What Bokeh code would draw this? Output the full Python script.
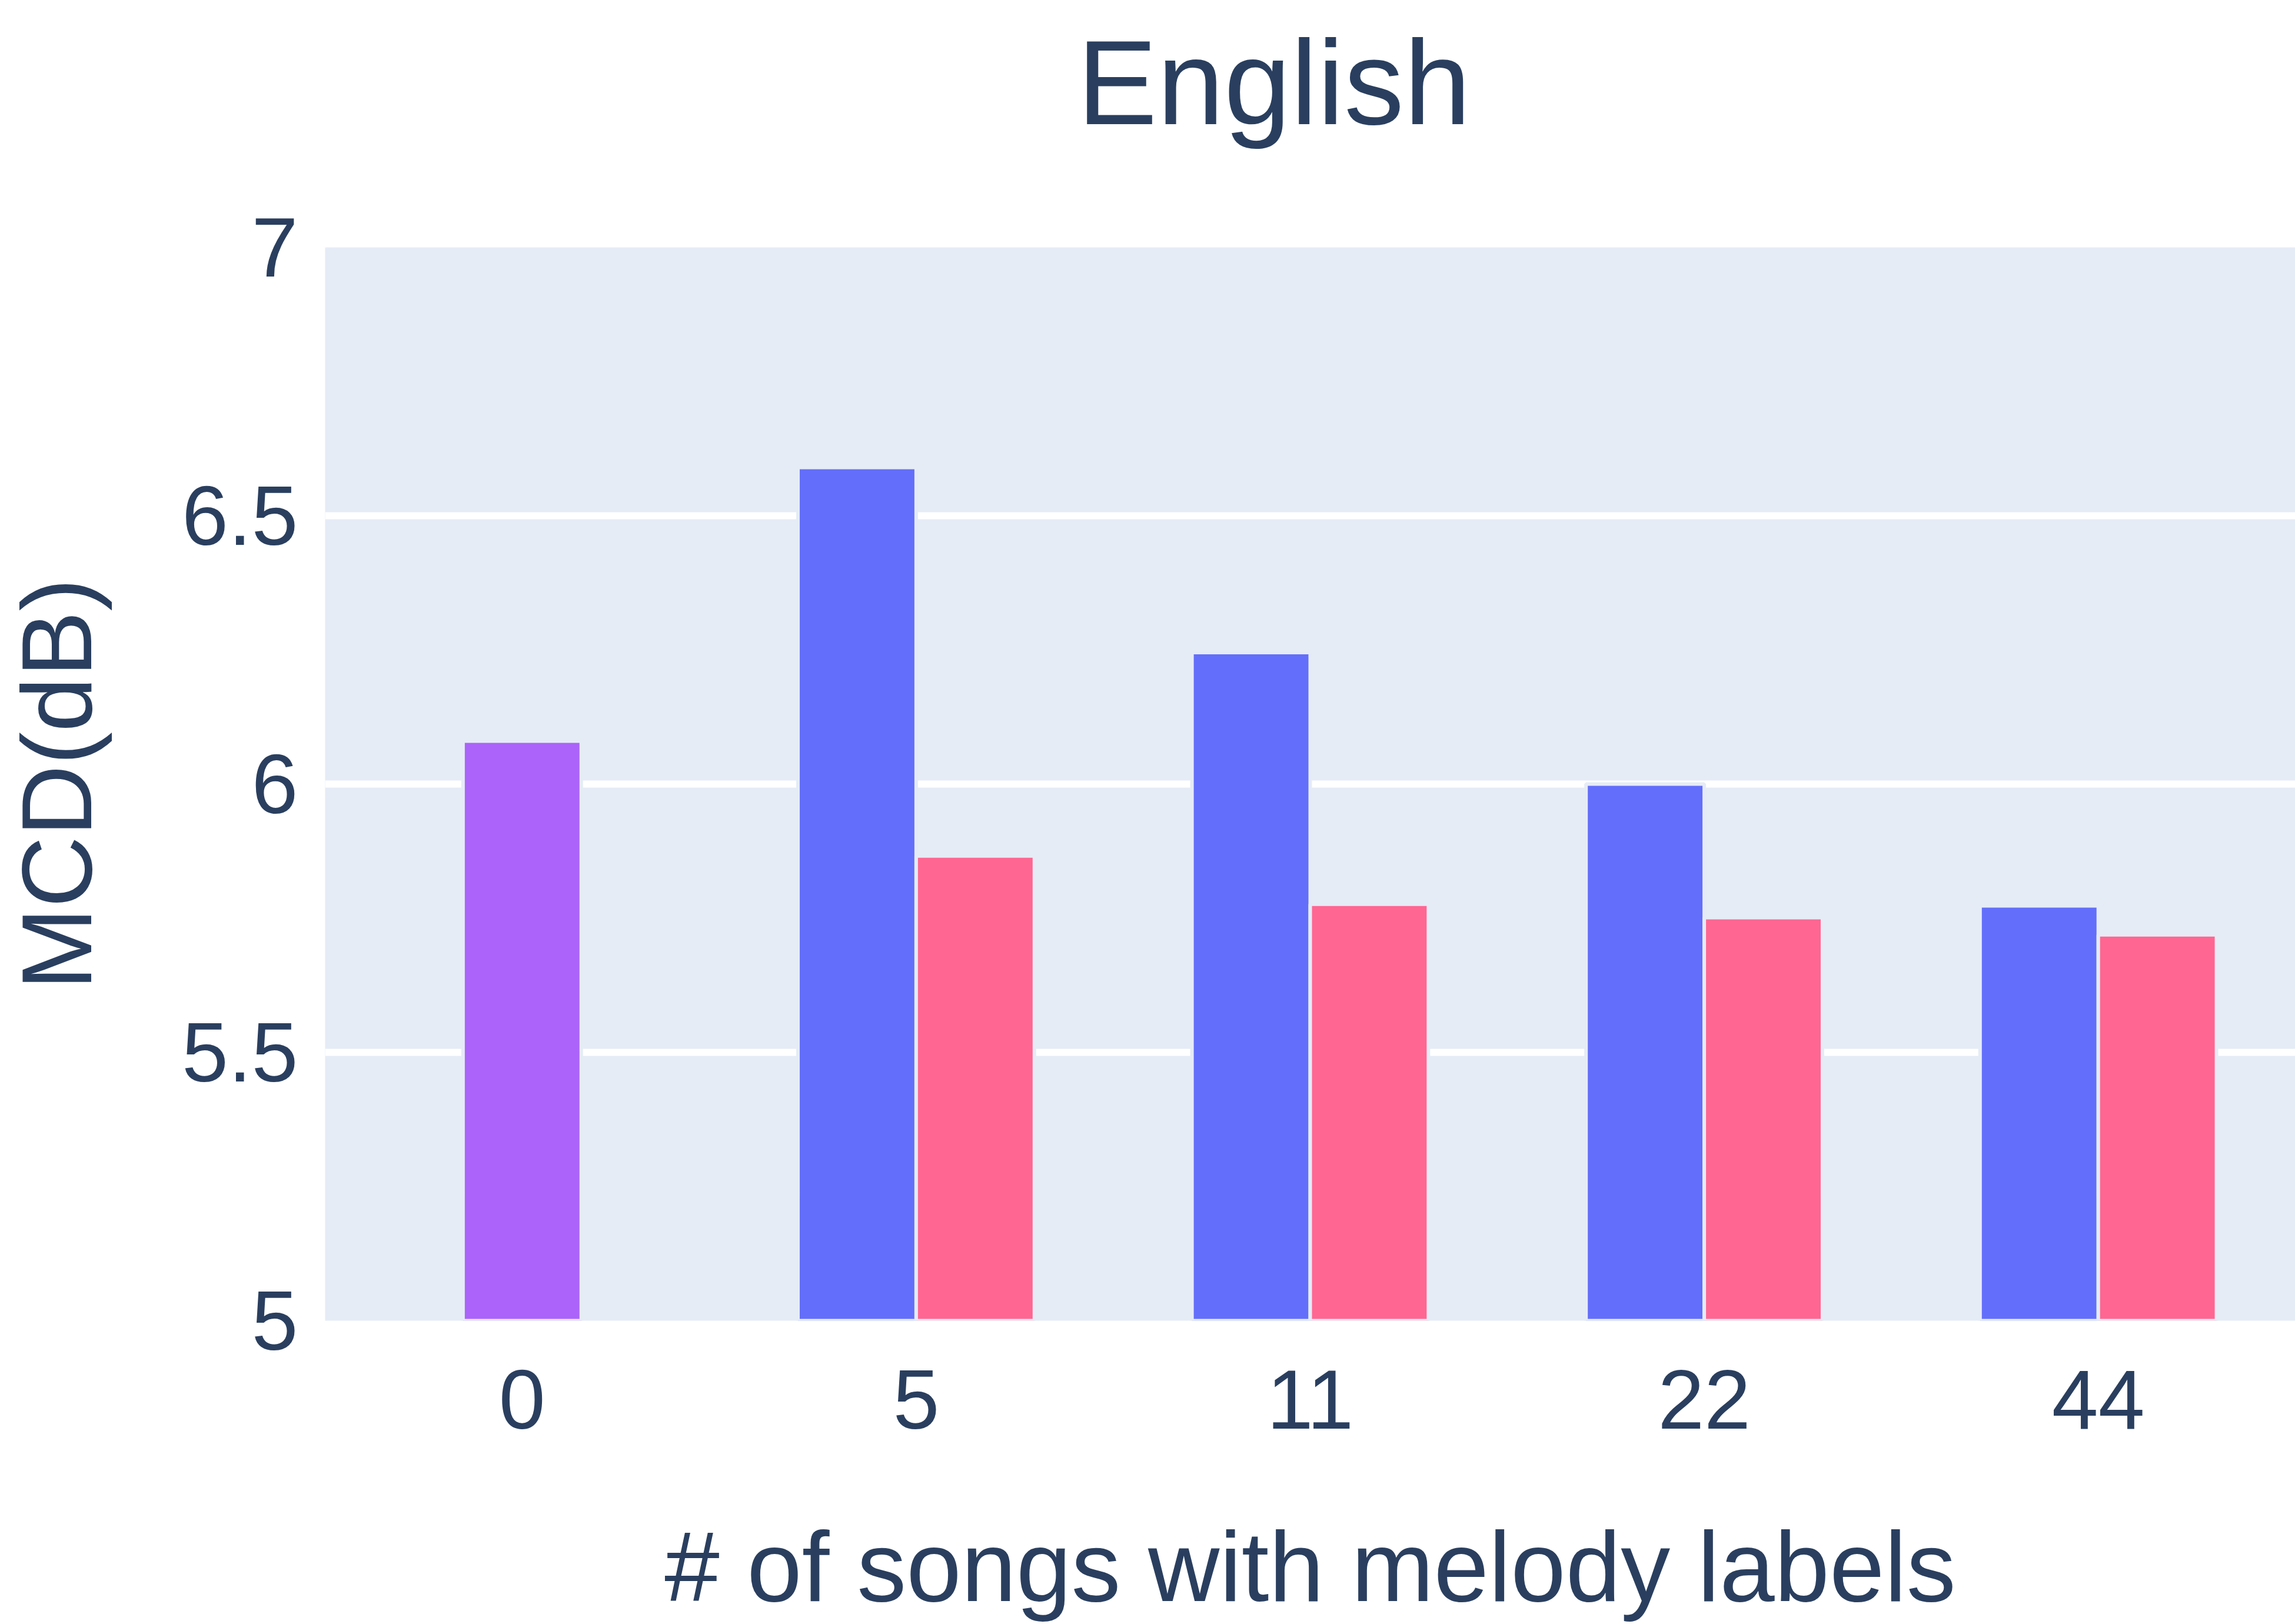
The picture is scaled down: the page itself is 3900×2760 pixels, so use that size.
from bokeh.plotting import figure
from bokeh.models import FactorRange, ColumnDataSource, Range1d, FixedTicker, Title
from bokeh.transform import dodge
from bokeh.embed import file_html
from bokeh.resources import INLINE

# ---- data ----
categories = ["0", "5", "11", "22", "44"]
purple_cats = ["0"]
purple_vals = [6.08]
pair_cats = ["5", "11", "22", "44"]
blue_vals = [6.59, 6.245, 6.00, 5.773]
pink_vals = [5.866, 5.776, 5.751, 5.719]
y_ticks = [5, 5.5, 6, 6.5, 7]
y_tick_labels = ["5", "5.5", "6", "6.5", "7"]
grid_ticks = [5.5, 6, 6.5]
title_text = "English"

TEXT = "#2a3f5f"
BG = "#E5ECF6"
FONT = "Liberation Sans"

p = figure(width=3900, height=2760,
           x_range=FactorRange(factors=categories),
           y_range=Range1d(5, 7),
           output_backend="svg", toolbar_location=None,
           min_border_left=552, min_border_right=0,
           min_border_top=420, min_border_bottom=516)
p.title.text = ""

p.background_fill_color = BG
p.border_fill_color = "white"
p.outline_line_color = None

# white (invisible) spacer nearest the plot area, then the real title above it
spacer = Title(text=".", text_font_size="10px", text_color="white", standoff=157)
p.add_layout(spacer, "above")
title = Title(text=title_text, text_font=FONT, text_font_size="204px",
              text_font_style="normal", text_color=TEXT,
              align="left", offset=1278, standoff=0)
p.add_layout(title, "above")

src_p = ColumnDataSource(dict(x=purple_cats, top=purple_vals))
src_pair = ColumnDataSource(dict(x=pair_cats, blue=blue_vals, pink=pink_vals))

p.vbar(x="x", top="top", bottom=0, width=0.3, source=src_p,
       fill_color="#AB63FA", line_color=BG, line_width=6)
p.vbar(x=dodge("x", -0.15, range=p.x_range), top="blue", bottom=0, width=0.3,
       source=src_pair, fill_color="#636EFA", line_color=BG, line_width=6)
p.vbar(x=dodge("x", 0.15, range=p.x_range), top="pink", bottom=0, width=0.3,
       source=src_pair, fill_color="#FF6692", line_color=BG, line_width=6)

# grid
p.xgrid.grid_line_color = None
p.ygrid.ticker = FixedTicker(ticks=grid_ticks)
p.ygrid.grid_line_color = "white"
p.ygrid.grid_line_width = 12

# y axis
ya = p.yaxis[0]
ya.ticker = FixedTicker(ticks=y_ticks)
ya.major_label_overrides = {t: l for t, l in zip(y_ticks, y_tick_labels)}
ya.axis_label = "MCD(dB)"
for ax in (p.xaxis[0], ya):
    ax.axis_line_color = None
    ax.major_tick_line_color = None
    ax.minor_tick_line_color = None
    ax.major_tick_out = 0
    ax.major_tick_in = 0
    ax.major_label_text_font = FONT
    ax.major_label_text_font_size = "142px"
    ax.major_label_text_color = TEXT
    ax.axis_label_text_font = FONT
    ax.axis_label_text_font_size = "168px"
    ax.axis_label_text_font_style = "normal"
    ax.axis_label_text_color = TEXT
ya.major_label_standoff = 46
ya.axis_label_standoff = 115

xa = p.xaxis[0]
xa.axis_label = "# of songs with melody labels"
xa.major_label_standoff = 84
xa.axis_label_standoff = 138

open("out.html", "w").write(file_html(p, INLINE))
